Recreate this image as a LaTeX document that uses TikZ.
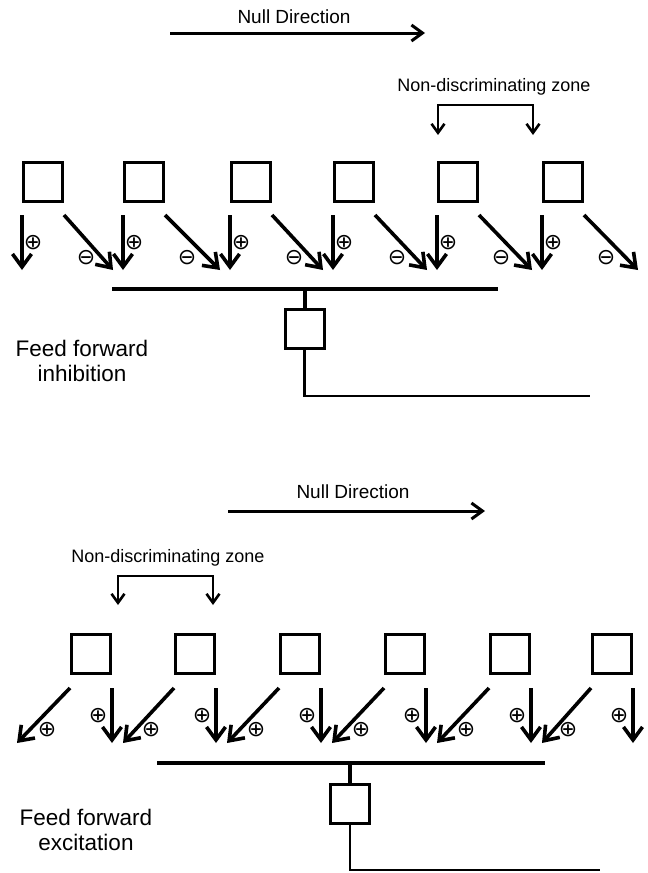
\documentclass[tikz,border=0pt]{standalone}
\usepackage{fontspec}
\setmainfont{Liberation Sans}
\newfontfamily\signfont{DejaVu Sans}
\usetikzlibrary{arrows.meta,positioning,calc}

\begin{document}
\begin{tikzpicture}[x=1pt,y=-1pt]
  \tikzstyle{cell} = [rectangle,draw,line width=3pt,minimum size=39pt,inner sep=0pt]
  \tikzstyle{syn} = [line width=3.6pt,-{Straight Barb[length=13pt,width=19pt]}]
  \tikzstyle{dirarrow} = [line width=3pt,-{Straight Barb[length=11pt,width=16pt]}]
  \tikzstyle{zone} = [line width=2.6pt,{Straight Barb[length=9pt,width=13pt]}-{Straight Barb[length=9pt,width=13pt]}]
  \tikzstyle{sign} = [inner sep=0pt,font=\fontsize{22}{22}\signfont]
  \tikzstyle{bar} = [line width=4.5pt]
  \tikzstyle{stub} = [line width=4pt]
  \tikzstyle{wire} = [line width=2.7pt]
  \tikzstyle{lbl} = [inner sep=0pt,font=\fontsize{19}{22}\selectfont]
  \tikzstyle{zonelbl} = [inner sep=0pt,font=\fontsize{18}{20}\selectfont]
  \tikzstyle{feed} = [inner sep=0pt,align=center,font=\fontsize{22.5}{25}\selectfont]

  \useasboundingbox (0,0) rectangle (648,873);

  % --- feed forward inhibition ---
  \node[lbl] (nullA) at (294,17) {Null Direction};
  \coordinate (nullAs) at (170,33);
  \coordinate (nullAe) at (425,33);
  \draw[dirarrow] (nullAs) -- (nullAe);

  \node[zonelbl] (ndzA) at (494,87) {Non-discriminating zone};
  \coordinate (zAl) at (438,135);
  \coordinate (zAr) at (533,135);
  \draw[zone] (zAl) -- ++(0,-30) -| (zAr);

  \foreach \i/\x in {1/43,2/144,3/251,4/354,5/458,6/563}
    \node[cell] (a\i) at (\x,182) {};

  \foreach \i in {1,...,6} {
    \draw[syn] ([yshift=-12pt]a\i.south west) -- ([yshift=-67pt]a\i.south west);
    \node[sign] at ([xshift=11pt,yshift=-40pt]a\i.south west) {⊕};
    \node[sign] at ([xshift=22pt,yshift=-55pt]a\i.south east) {⊖};
  }
  \foreach \i/\j in {1/2,2/3,3/4,4/5,5/6}
    \draw[syn] ([yshift=-12pt]a\i.south east) -- ([xshift=-10pt,yshift=-67pt]a\j.south west);
  \coordinate (endA) at (638,270);
  \draw[syn] ([yshift=-12pt]a6.south east) -- (endA);

  \coordinate (barAl) at (112,289);
  \coordinate (barAr) at (498,289);
  \draw[bar] (barAl) -- (barAr);
  \node[cell] (oa) at (304.5,329) {};
  \draw[stub] (oa.north) -- (oa.north |- barAl);
  \coordinate (outA) at (590,396);
  \draw[wire] (oa.south) |- (outA);
  \node[feed] (ffi) at (82,360.5) {Feed forward\\inhibition};

  % --- feed forward excitation ---
  \node[lbl] (nullB) at (353,492) {Null Direction};
  \coordinate (nullBs) at (228,511);
  \coordinate (nullBe) at (485,511);
  \draw[dirarrow] (nullBs) -- (nullBe);

  \node[zonelbl] (ndzB) at (168,558) {Non-discriminating zone};
  \coordinate (zBl) at (118,605);
  \coordinate (zBr) at (213,605);
  \draw[zone] (zBl) -- ++(0,-29) -| (zBr);

  \foreach \i/\x in {1/91,2/195,3/300,4/405,5/510,6/612}
    \node[cell] (b\i) at (\x,654) {};

  \foreach \i in {1,...,6} {
    \draw[syn] ([yshift=-13pt]b\i.south east) -- ([yshift=-68pt]b\i.south east);
    \node[sign] at ([xshift=-14pt,yshift=-41pt]b\i.south east) {⊕};
    \node[sign] at ([xshift=-23pt,yshift=-55pt]b\i.south west) {⊕};
  }
  \coordinate (endB) at (17,743);
  \draw[syn] ([yshift=-13pt]b1.south west) -- (endB);
  \foreach \i/\j in {2/1,3/2,4/3,5/4,6/5}
    \draw[syn] ([yshift=-13pt]b\i.south west) -- ([xshift=11pt,yshift=-68pt]b\j.south east);

  \coordinate (barBl) at (157,763);
  \coordinate (barBr) at (545,763);
  \draw[bar] (barBl) -- (barBr);
  \node[cell] (ob) at (350,803.5) {};
  \draw[stub] (ob.north) -- (ob.north |- barBl);
  \coordinate (outB) at (600,870);
  \draw[wire] (ob.south) |- (outB);
  \node[feed] (ffe) at (86,830) {Feed forward\\excitation};
\end{tikzpicture}
\end{document}
